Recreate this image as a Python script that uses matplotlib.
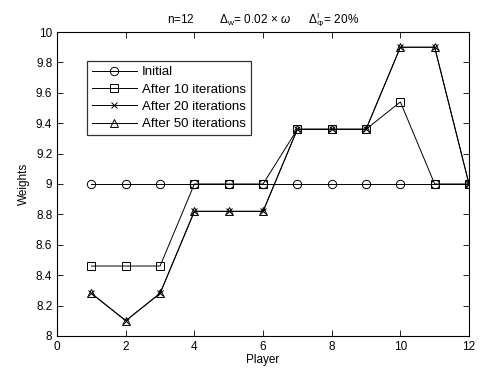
import matplotlib
matplotlib.use("Agg")
import matplotlib.pyplot as plt
from matplotlib.ticker import FuncFormatter

plt.rcParams['font.family'] = ['Liberation Sans', 'DejaVu Sans']
plt.rcParams['mathtext.fontset'] = 'custom'
plt.rcParams['mathtext.rm'] = 'Liberation Sans'
plt.rcParams['mathtext.it'] = 'Liberation Sans:italic'

players = [1, 2, 3, 4, 5, 6, 7, 8, 9, 10, 11, 12]
initial = [9, 9, 9, 9, 9, 9, 9, 9, 9, 9, 9, 9]
after10 = [8.46, 8.46, 8.46, 9.0, 9.0, 9.0, 9.36, 9.36, 9.36, 9.54, 9.0, 9.0]
after20 = [8.28, 8.10, 8.28, 8.82, 8.82, 8.82, 9.36, 9.36, 9.36, 9.90, 9.90, 9.0]
after50 = [8.28, 8.10, 8.28, 8.82, 8.82, 8.82, 9.36, 9.36, 9.36, 9.90, 9.90, 9.0]

series = [("Initial", initial, "o"),
          ("After 10 iterations", after10, "s"),
          ("After 20 iterations", after20, "x"),
          ("After 50 iterations", after50, "^")]

fig = plt.figure(figsize=(4.84, 3.77), dpi=100)
ax = fig.add_axes([0.118, 0.109, 0.851, 0.806])

for lab, vals, mk in series:
    ms = 4 if mk == "x" else 6
    ax.plot(players, vals, color="black", lw=0.7, marker=mk, ms=ms,
            mfc="none", mec="black", mew=0.7, label=lab)

ax.set_xlim(0, 12)
ax.set_ylim(8, 10)
ax.set_xticks(range(0, 13, 2))
ax.set_yticks([8, 8.2, 8.4, 8.6, 8.8, 9, 9.2, 9.4, 9.6, 9.8, 10])
ax.yaxis.set_major_formatter(FuncFormatter(lambda v, p: f"{v:g}"))
ax.tick_params(direction="in", top=True, right=True, labelsize=8.5, length=4, width=0.6)
for s in ax.spines.values():
    s.set_linewidth(0.8)

ax.set_xlabel("Player", fontsize=8.5, labelpad=1)
ax.set_ylabel("Weights", fontsize=8.5, labelpad=4)
ax.set_title(r"n=12        $\Delta_{\rm w}$= 0.02 $\times$ $\omega$      $\Delta^{\rm I}_{\Phi}$= 20%",
             fontsize=8.5, pad=6)

leg = ax.legend(loc="upper left", bbox_to_anchor=(0.072, 0.905), fontsize=9.5,
                handlelength=3.4, frameon=True, fancybox=False, borderpad=0.4,
                labelspacing=0.38, handletextpad=0.4, borderaxespad=0)
leg.get_frame().set_edgecolor("black")
leg.get_frame().set_linewidth(0.9)

fig.savefig("out.png", dpi=100)
